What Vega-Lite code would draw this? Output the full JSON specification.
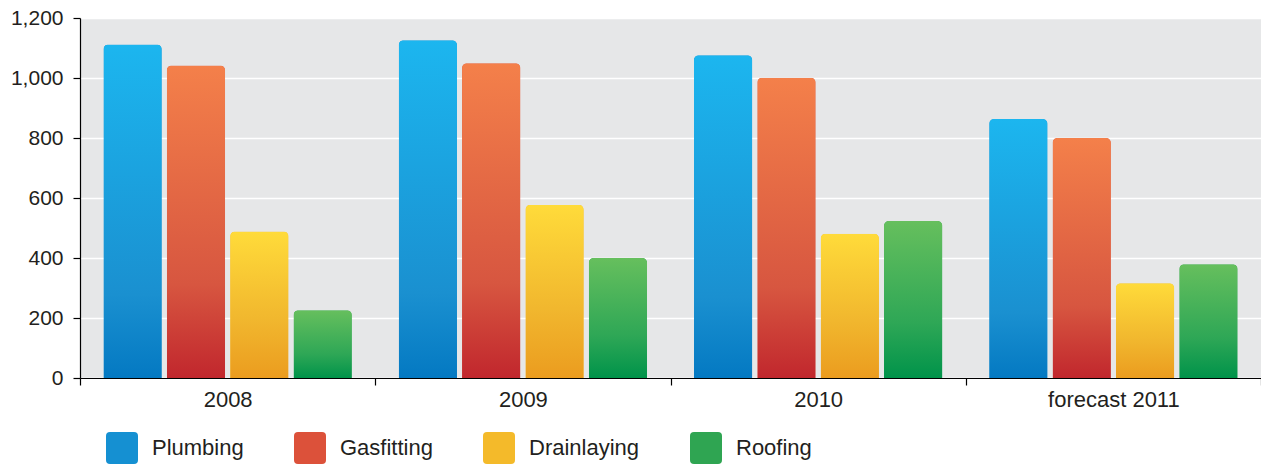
{
  "$schema": "https://vega.github.io/schema/vega-lite/v6.json",
  "autosize": {"type": "none"},
  "padding": {"left": 80, "top": 18, "right": 0, "bottom": 91},
  "width": 1181,
  "height": 360,
  "background": "#ffffff",
  "config": {
    "view": {"fill": "#e6e7e8", "stroke": null},
    "font": "Liberation Sans",
    "axis": {
      "labelFont": "Liberation Sans",
      "labelFontSize": 21,
      "labelColor": "#231f20",
      "domainColor": "#000000",
      "tickColor": "#000000",
      "domainWidth": 1.2,
      "tickWidth": 1.2,
      "tickSize": 7,
      "title": null
    }
  },
  "data": {
    "values": [
      {"year": "2008", "series": "Plumbing", "value": 1112},
      {"year": "2008", "series": "Gasfitting", "value": 1042},
      {"year": "2008", "series": "Drainlaying", "value": 488},
      {"year": "2008", "series": "Roofing", "value": 226},
      {"year": "2009", "series": "Plumbing", "value": 1126},
      {"year": "2009", "series": "Gasfitting", "value": 1049},
      {"year": "2009", "series": "Drainlaying", "value": 577},
      {"year": "2009", "series": "Roofing", "value": 400},
      {"year": "2010", "series": "Plumbing", "value": 1076},
      {"year": "2010", "series": "Gasfitting", "value": 1001},
      {"year": "2010", "series": "Drainlaying", "value": 481},
      {"year": "2010", "series": "Roofing", "value": 523},
      {"year": "forecast 2011", "series": "Plumbing", "value": 863},
      {"year": "forecast 2011", "series": "Gasfitting", "value": 800},
      {"year": "forecast 2011", "series": "Drainlaying", "value": 316},
      {"year": "forecast 2011", "series": "Roofing", "value": 379}
    ]
  },
  "encoding": {
    "x": {
      "field": "year",
      "type": "nominal",
      "sort": null,
      "scale": {"paddingInner": 0, "paddingOuter": 0},
      "axis": {"labelAngle": 0, "tickBand": "extent", "labelPadding": 4, "labelFontSize": 22, "grid": false}
    },
    "xOffset": {
      "field": "series",
      "type": "nominal",
      "sort": ["Plumbing", "Gasfitting", "Drainlaying", "Roofing"],
      "scale": {"paddingInner": 0.08, "paddingOuter": 0.37}
    },
    "y": {
      "field": "value",
      "type": "quantitative",
      "scale": {"domain": [0, 1200], "nice": false},
      "axis": {
        "values": [0, 200, 400, 600, 800, 1000, 1200],
        "format": ",d",
        "grid": true,
        "gridColor": "#ffffff",
        "gridWidth": 1.5,
        "labelPadding": 10
      }
    }
  },
  "layer": [
    {
      "mark": {"type": "bar", "cornerRadiusEnd": 5},
      "encoding": {
        "color": {
          "field": "series",
          "type": "nominal",
          "sort": ["Plumbing", "Gasfitting", "Drainlaying", "Roofing"],
          "scale": {
            "domain": ["Plumbing", "Gasfitting", "Drainlaying", "Roofing"],
            "range": ["#1590d2", "#dc513a", "#f4ba2a", "#2fa552"]
          },
          "legend": {
            "title": null,
            "orient": "none",
            "direction": "horizontal",
            "columns": 4,
            "legendX": 26,
            "legendY": 414,
            "padding": 0,
            "symbolType": "M-0.75,-1L0.75,-1Q1,-1 1,-0.75L1,0.75Q1,1 0.75,1L-0.75,1Q-1,1 -1,0.75L-1,-0.75Q-1,-1 -0.75,-1Z",
            "symbolSize": 1024,
            "symbolStrokeWidth": 0,
            "symbolOpacity": 1,
            "labelFont": "Liberation Sans",
            "labelFontSize": 22,
            "labelColor": "#231f20",
            "labelOffset": 14,
            "columnPadding": 50,
            "labelLimit": 300
          }
        }
      }
    },
    {
      "transform": [{"filter": "datum.series === 'Plumbing'"}],
      "mark": {
        "type": "bar",
        "cornerRadiusEnd": 5,
        "fill": {
          "gradient": "linear", "x1": 0, "y1": 0, "x2": 0, "y2": 1,
          "stops": [
            {"offset": 0, "color": "#1cb6ef"},
            {"offset": 0.75, "color": "#1a90d0"},
            {"offset": 1, "color": "#0479c2"}
          ]
        }
      }
    },
    {
      "transform": [{"filter": "datum.series === 'Gasfitting'"}],
      "mark": {
        "type": "bar",
        "cornerRadiusEnd": 5,
        "fill": {
          "gradient": "linear", "x1": 0, "y1": 0, "x2": 0, "y2": 1,
          "stops": [
            {"offset": 0, "color": "#f4804a"},
            {"offset": 0.7, "color": "#d75640"},
            {"offset": 1, "color": "#c1272d"}
          ]
        }
      }
    },
    {
      "transform": [{"filter": "datum.series === 'Drainlaying'"}],
      "mark": {
        "type": "bar",
        "cornerRadiusEnd": 5,
        "fill": {
          "gradient": "linear", "x1": 0, "y1": 0, "x2": 0, "y2": 1,
          "stops": [
            {"offset": 0, "color": "#ffdb3a"},
            {"offset": 0.6, "color": "#f1b72e"},
            {"offset": 1, "color": "#eb9c1f"}
          ]
        }
      }
    },
    {
      "transform": [{"filter": "datum.series === 'Roofing'"}],
      "mark": {
        "type": "bar",
        "cornerRadiusEnd": 5,
        "fill": {
          "gradient": "linear", "x1": 0, "y1": 0, "x2": 0, "y2": 1,
          "stops": [
            {"offset": 0, "color": "#66bf5d"},
            {"offset": 0.65, "color": "#2ea756"},
            {"offset": 1, "color": "#00934a"}
          ]
        }
      }
    }
  ]
}
